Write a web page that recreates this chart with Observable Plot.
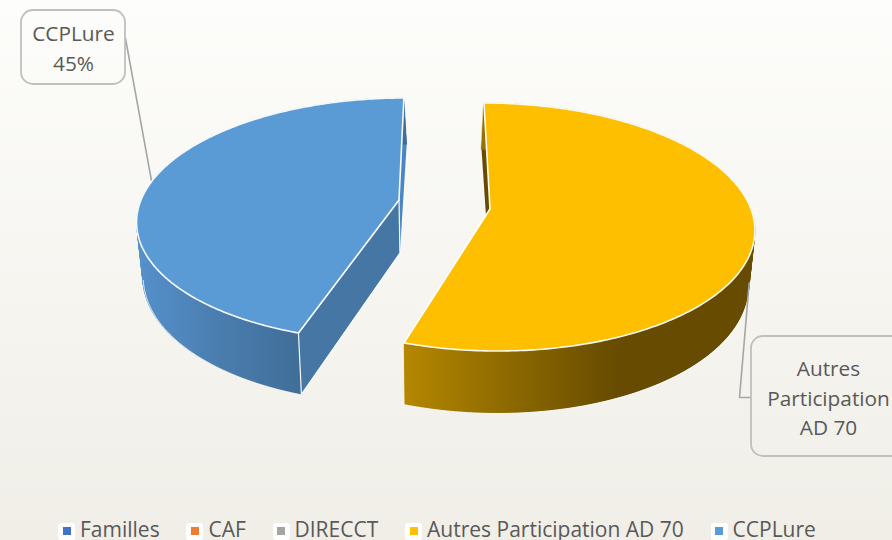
<!DOCTYPE html>
<html>
<head>
<meta charset="utf-8">
<script src="https://cdn.jsdelivr.net/npm/d3@7"></script>
<script src="https://cdn.jsdelivr.net/npm/@observablehq/plot@0.6"></script>
<style>
html,body{margin:0;padding:0;width:892px;height:540px;overflow:hidden;}
body{background:linear-gradient(#fdfdfb,#f0eee7);position:relative;font-family:"Open Sans",sans-serif;}
#chart svg{display:block;background:transparent;}
#legend{position:absolute;left:58px;top:517px;height:24px;display:flex;align-items:center;gap:26.75px;font-size:21px;color:#595959;white-space:nowrap;line-height:24px;}
#legend .item{display:flex;align-items:center;}
#legend .tile{width:17px;height:17px;background:#fff;border-radius:3px;margin-right:5px;display:flex;align-items:center;justify-content:center;position:relative;top:2px;}
#legend .tile i{display:block;width:8px;height:8px;}
</style>
</head>
<body>
<div id="chart"></div>
<div id="legend"></div>
<script>
const categories = ["Familles", "CAF", "DIRECCT", "Autres Participation AD 70", "CCPLure"];
const shares = [0, 0, 0, 55, 45];
const colors = ["#4472c4", "#ed7d31", "#a5a5a5", "#ffc000", "#5b9bd5"];

const W = 892, H = 516;
const sliceAngles = d3.pie().sort(null)(shares);
const autres = sliceAngles[3], ccp = sliceAngles[4];

// Perspective view of each exploded slice
const viewAutres = {cx: 490, cy: 209, A: 261, B: -6.9, a: 121.4, p: 0.145};
const viewCcp = {cx: 399, cy: 200, A: 258, B: 5.7, a: 118.4, p: 0.161};
const depth = 53, vanishX = 446;

function topPt(v, t, r = 1) {
  const X = r * Math.sin(t), Z = r * Math.cos(t), s = 1 + v.p * Z;
  return {x: v.cx + (v.A * X + v.B * Z) / s, y: v.cy - v.a * Z / s, Z};
}
function bottomPt(v, t, r = 1) {
  const q = topPt(v, t, r);
  const k = q.Z > 0 ? 0.98 - 0.045 * q.Z : 0.98;
  return {x: vanishX + (q.x - vanishX) * k, y: q.y + depth / (1 + 0.145 * q.Z), Z: q.Z};
}
const angles = (s) => d3.range(0, 241).map((i) => s.startAngle + (s.endAngle - s.startAngle) * i / 240);

const sector = (v, s) => angles(s).map((t) => {
  const q = topPt(v, t), o = topPt(v, t, 0);
  return {x1: q.x, y1: q.y, x2: o.x, y2: o.y};
});
const rim = (v, s) => angles(s).map((t) => {
  const q = topPt(v, t), b = bottomPt(v, t);
  return {x1: q.x, y1: q.y, x2: b.x, y2: b.y};
});
// thin quads underneath, so the outline follows the silhouette
const rimQuads = (v, s) => {
  const ts = angles(s);
  return ts.slice(1).flatMap((t, i) => [ts[i], t].map((a) => {
    const q = topPt(v, a), b = bottomPt(v, a);
    return {x1: q.x, y1: q.y, x2: b.x, y2: b.y, z: i};
  }));
};
const rimEdge = (v, s) => angles(s).map((t) => bottomPt(v, t)).filter((d) => d.Z < -0.2);
const face = (v, t) => [0, 1].map((r) => {
  const q = topPt(v, t, r), b = bottomPt(v, t, r);
  return {x1: q.x, y1: q.y, x2: b.x, y2: b.y};
});

const defs = () => {
  const d = d3.create("svg:defs");
  const grad = (id, x1, x2, stops) => {
    const g = d.append("linearGradient").attr("id", id).attr("gradientUnits", "userSpaceOnUse")
      .attr("x1", x1).attr("x2", x2).attr("y1", 0).attr("y2", 0);
    stops.forEach(([o, c]) => g.append("stop").attr("offset", o).attr("stop-color", c));
  };
  grad("rimY", 405, 620, [[0, "#b58700"], [0.55, "#876500"], [1, "#664b00"]]);
  grad("rimB", 140, 300, [[0, "#5590cb"], [0.5, "#4a7dae"], [1, "#406e98"]]);
  return d.node();
};

const area = (data, fill, strokeWidth = 1.2) =>
  Plot.area(data, {x1: "x1", y1: "y1", x2: "x2", y2: "y2", fill, stroke: strokeWidth ? "#fff" : "none", strokeWidth, strokeOpacity: 0.95});
const rimMark = (v, s, fill) => [
  Plot.area(rimQuads(v, s), {x1: "x1", y1: "y1", x2: "x2", y2: "y2", z: "z", fill, stroke: fill, strokeWidth: 0.5}),
  area(rim(v, s), fill, 0),
  Plot.line(rimEdge(v, s), {x: "x", y: "y", stroke: "#fff", strokeWidth: 1, strokeOpacity: 0.8})
];

const midC = (ccp.startAngle + ccp.endAngle) / 2, midA = (autres.startAngle + autres.endAngle) / 2;
const anchorC = topPt(viewCcp, midC), anchorA = bottomPt(viewAutres, midA);

const plot = Plot.plot({
  width: W, height: H, margin: 0,
  x: {domain: [0, W], range: [0, W], axis: null},
  y: {domain: [0, H], range: [0, H], axis: null},
  style: {background: "transparent"},
  marks: [
    defs,
    // leader lines
    Plot.line([{x: 125, y: 38}, anchorC], {x: "x", y: "y", stroke: "#a6a6a6", strokeWidth: 1.6}),
    // CCPLure slice
    area(face(viewCcp, ccp.endAngle), "#4a86c4", 0),
    rimMark(viewCcp, ccp, "url(#rimB)"),
    area(face(viewCcp, ccp.startAngle), "#4676a3"),
    area(sector(viewCcp, ccp), colors[4], 1.6),
    // Autres slice
    area(face(viewAutres, autres.startAngle), "#664b00", 0),
    area(face(viewAutres, autres.endAngle), "#b58700"),
    rimMark(viewAutres, autres, "url(#rimY)"),
    area(sector(viewAutres, autres), "#fdbf00", 1.6),
    Plot.line([{x: 750, y: 397}, {x: 739, y: 397}, anchorA], {x: "x", y: "y", stroke: "#a6a6a6", strokeWidth: 1.6}),
    // callouts
    Plot.rect([{x1: 21, x2: 125, y1: 10, y2: 84}, {x1: 751, x2: 906, y1: 336, y2: 456}],
      {x1: "x1", x2: "x2", y1: "y1", y2: "y2", fill: "none", stroke: "#bfbfbf", strokeWidth: 1.8, rx: 12}),
    Plot.text([{x: 73, y: 46, t: categories[4] + "\n" + shares[4] + "%"}],
      {x: "x", y: "y", text: "t", fontSize: 20.8, fill: "#595959", lineHeight: 1.42, fontFamily: "Open Sans"}),
    Plot.text([{x: 828, y: 396, t: "Autres\nParticipation\nAD 70"}],
      {x: "x", y: "y", text: "t", fontSize: 20.8, fill: "#595959", lineHeight: 1.42, fontFamily: "Open Sans"})
  ]
});
document.getElementById("chart").append(plot);

const legend = d3.select("#legend");
categories.forEach((c, i) => {
  const it = legend.append("div").attr("class", "item");
  it.append("span").attr("class", "tile").append("i").style("background", colors[i]);
  it.append("span").text(c);
});
</script>
</body>
</html>
